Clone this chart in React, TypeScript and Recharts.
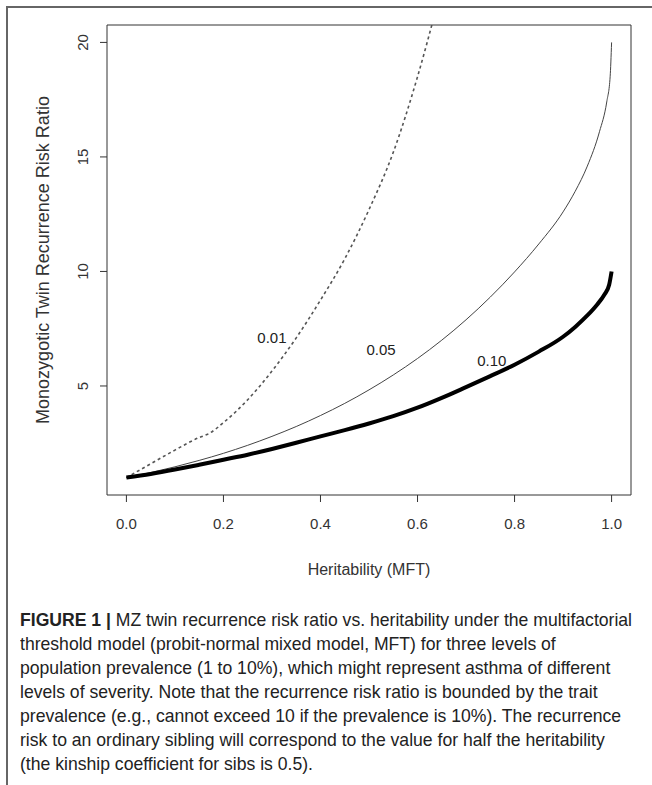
import { LineChart, Line, XAxis, YAxis, ReferenceArea, ReferenceDot } from 'recharts'

// heritability (x) and MZ recurrence risk ratio (y)
const heritDotted = [0, 0.05, 0.1, 0.15, 0.17, 0.2, 0.25, 0.3, 0.35, 0.4, 0.45, 0.5, 0.55, 0.6, 0.64]
const rrDotted = [1.0, 1.6, 2.2, 2.75, 2.92, 3.4, 4.4, 5.65, 7.1, 8.75, 10.55, 12.7, 15.2, 18.5, 21.6]

const heritThin = [0, 0.05, 0.1, 0.15, 0.2, 0.25, 0.3, 0.35, 0.4, 0.45, 0.5, 0.55, 0.6, 0.65, 0.7, 0.75, 0.8, 0.85, 0.9, 0.925, 0.95, 0.975, 0.99, 0.997, 1.0]
const rrThin = [1.0, 1.22, 1.47, 1.75, 2.06, 2.41, 2.8, 3.23, 3.71, 4.24, 4.83, 5.48, 6.2, 7.0, 7.89, 8.88, 9.98, 11.2, 12.6, 13.5, 14.6, 16.1, 17.4, 18.5, 20.0]

const heritThick = [0, 0.05, 0.1, 0.15, 0.2, 0.25, 0.3, 0.35, 0.4, 0.45, 0.5, 0.55, 0.6, 0.65, 0.7, 0.75, 0.8, 0.85, 0.9, 0.925, 0.95, 0.97, 0.985, 0.995, 1.0]
const rrThick = [1.0, 1.16, 1.35, 1.56, 1.78, 2.0, 2.25, 2.52, 2.8, 3.07, 3.36, 3.68, 4.05, 4.48, 4.95, 5.43, 5.93, 6.5, 7.15, 7.58, 8.08, 8.55, 8.98, 9.42, 10.0]

const xTicks = [0, 0.2, 0.4, 0.6, 0.8, 1.0]
const yTicks = [5, 10, 15, 20]

// curve labels: [text, heritability, ratio]
const curveLabels: [string, number, number][] = [
  ['0.01', 0.3, 7.13],
  ['0.05', 0.525, 6.6],
  ['0.10', 0.753, 6.1],
]

const captionHead = 'FIGURE 1 | '
const captionLines = [
  'MZ twin recurrence risk ratio vs. heritability under the multifactorial',
  'threshold model (probit-normal mixed model, MFT) for three levels of',
  'population prevalence (1 to 10%), which might represent asthma of different',
  'levels of severity. Note that the recurrence risk ratio is bounded by the trait',
  'prevalence (e.g., cannot exceed 10 if the prevalence is 10%). The recurrence',
  'risk to an ordinary sibling will correspond to the value for half the heritability',
  '(the kinship coefficient for sibs is 0.5).',
]

const toPoints = (xs: number[], ys: number[]) => xs.map((h, i) => ({ h, rr: ys[i] }))

const FONT = '"Liberation Sans", Arial, Helvetica, sans-serif'
const INK = '#333'
const CAP_SIZE = 18.5

// squeeze the caption so its first line spans the same width as in the figure
function captionScale() {
  const ctx = document.createElement('canvas').getContext('2d')
  if (!ctx) return 0.85
  ctx.font = `bold ${CAP_SIZE}px "Liberation Sans"`
  const head = ctx.measureText(captionHead).width
  ctx.font = `${CAP_SIZE}px "Liberation Sans"`
  const rest = ctx.measureText(captionLines[0]).width
  return 612 / (head + rest)
}

const YTick = (props: any) => {
  const { x, y, payload } = props
  return (
    <text
      x={x}
      y={y}
      transform={`rotate(-90, ${x}, ${y})`}
      textAnchor="middle"
      dominantBaseline="central"
      fontSize={15}
      fontFamily={FONT}
      fill={INK}
    >
      {payload.value}
    </text>
  )
}

export default function App() {
  const scale = captionScale()
  return (
    <div
      style={{
        position: 'absolute',
        left: 0,
        top: 0,
        width: 652,
        height: 785,
        overflow: 'hidden',
        background: '#fff',
      }}
    >
      <div
        style={{
          position: 'absolute',
          left: 6,
          top: 6,
          width: 700,
          height: 800,
          borderTop: '2px solid #666',
          borderLeft: '2px solid #666',
        }}
      />
      <div style={{ position: 'absolute', left: 0, top: 0 }}>
        <LineChart width={652} height={600} margin={{ top: 25, right: 21, bottom: 65, left: 47 }}>
          <XAxis
            type="number"
            dataKey="h"
            domain={[-0.04, 1.04]}
            ticks={xTicks}
            tickFormatter={(v: number) => v.toFixed(1)}
            allowDataOverflow
            axisLine={false}
            tickSize={7}
            tickMargin={16}
            height={40}
            tickLine={{ stroke: INK }}
            tick={{ fontSize: 15, fontFamily: FONT, fill: INK }}
          />
          <YAxis
            type="number"
            dataKey="rr"
            domain={[0.24, 20.76]}
            ticks={yTicks}
            allowDataOverflow
            axisLine={false}
            tickSize={7}
            tickMargin={17}
            width={60}
            tickLine={{ stroke: INK }}
            tick={<YTick />}
          />
          <ReferenceArea
            x1={-0.04}
            x2={1.04}
            y1={0.24}
            y2={20.76}
            fill="none"
            stroke={INK}
            strokeWidth={1}
            ifOverflow="visible"
          />
          <Line
            data={toPoints(heritDotted, rrDotted)}
            dataKey="rr"
            type="monotone"
            stroke="#555"
            strokeWidth={1.6}
            strokeDasharray="3 3"
            dot={false}
            isAnimationActive={false}
          />
          <Line
            data={toPoints(heritThin, rrThin)}
            dataKey="rr"
            type="monotone"
            stroke="#444"
            strokeWidth={1}
            dot={false}
            isAnimationActive={false}
          />
          <Line
            data={toPoints(heritThick, rrThick)}
            dataKey="rr"
            type="monotone"
            stroke="#000"
            strokeWidth={4}
            dot={false}
            isAnimationActive={false}
          />
          {curveLabels.map(([t, h, r]) => (
            <ReferenceDot
              key={t}
              x={h}
              y={r}
              r={0}
              fill="none"
              stroke="none"
              label={{ value: t, position: 'center', fontSize: 15, fontFamily: FONT, fill: '#222' }}
            />
          ))}
        </LineChart>
      </div>
      <div
        style={{
          position: 'absolute',
          left: 369 - 200,
          top: 560,
          width: 400,
          textAlign: 'center',
          fontFamily: FONT,
          fontSize: 16,
          color: INK,
          lineHeight: '20px',
        }}
      >
        Heritability (MFT)
      </div>
      <div
        style={{
          position: 'absolute',
          left: 43 - 200,
          top: 260 - 11,
          width: 400,
          textAlign: 'center',
          fontFamily: FONT,
          fontSize: 18,
          color: INK,
          lineHeight: '22px',
          transform: 'rotate(-90deg)',
          transformOrigin: '50% 50%',
        }}
      >
        Monozygotic Twin Recurrence Risk Ratio
      </div>
      <div
        style={{
          position: 'absolute',
          left: 20,
          top: 608,
          fontFamily: FONT,
          fontSize: CAP_SIZE,
          lineHeight: '24px',
          color: '#222',
          whiteSpace: 'nowrap',
          transform: `scaleX(${scale})`,
          transformOrigin: '0 0',
        }}
      >
        {captionLines.map((line, i) => (
          <div key={i}>
            {i === 0 && <b>{captionHead}</b>}
            {line}
          </div>
        ))}
      </div>
    </div>
  )
}
